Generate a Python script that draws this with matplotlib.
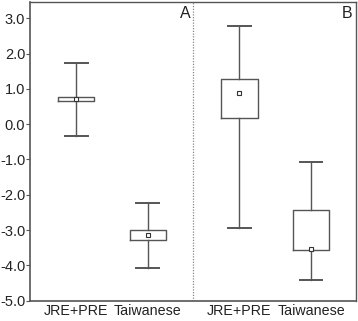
import matplotlib
matplotlib.use("Agg")
import matplotlib.pyplot as plt

plt.rcParams['font.family'] = ['Liberation Sans', 'DejaVu Sans']

categories = ["JRE+PRE", "Taiwanese", "JRE+PRE", "Taiwanese"]
panels = ["A", "B"]
whisker_high = [1.72, -2.22, 2.78, -1.07]
box_high = [0.78, -3.00, 1.28, -2.43]
means = [0.70, -3.15, 0.87, -3.54]
box_low = [0.65, -3.28, 0.17, -3.57]
whisker_low = [-0.33, -4.08, -2.95, -4.41]
yticks = [3.0, 2.0, 1.0, 0.0, -1.0, -2.0, -3.0, -4.0, -5.0]
ytick_labels = ["3.0", "2.0", "1.0", "0.0", "-1.0", "-2.0", "-3.0", "-4.0", "-5.0"]

positions = [0.142, 0.361, 0.643, 0.863]
col = "#555555"

fig = plt.figure(figsize=(3.58, 3.21), dpi=100)
ax = fig.add_axes([0.0838, 0.0632, 0.9098, 0.9306])

stats = []
for i in range(4):
    stats.append(dict(whislo=whisker_low[i], q1=box_low[i], med=box_low[i],
                      q3=box_high[i], whishi=whisker_high[i], mean=means[i],
                      fliers=[]))

ax.bxp(stats, positions=positions, widths=0.111, showmeans=True,
       showfliers=False, patch_artist=False,
       boxprops=dict(color=col, linewidth=1.0),
       whiskerprops=dict(color=col, linewidth=1.0),
       capprops=dict(color=col, linewidth=1.4),
       capwidths=0.07,
       medianprops=dict(linewidth=0),
       meanprops=dict(marker='s', markersize=2.6, markerfacecolor='white',
                      markeredgecolor='#333333', markeredgewidth=0.8))

ax.set_xlim(0, 1)
ax.set_ylim(-5.0, 3.46)
ax.axvline(0.5, color="#888888", linestyle=(0, (1, 1.2)), linewidth=0.9)

ax.set_yticks(yticks)
ax.set_yticklabels(ytick_labels, fontsize=10.5, color="#222222")
ax.set_xticks(positions)
ax.set_xticklabels(categories, fontsize=10.3, color="#222222")
ax.tick_params(axis='x', length=0, pad=2.5)
ax.tick_params(axis='y', length=3, width=0.8, color=col, pad=0.5)

for s in ax.spines.values():
    s.set_color(col)
    s.set_linewidth(1.0)
ax.spines['left'].set_linewidth(1.2)
ax.spines['bottom'].set_linewidth(1.2)

ax.text(0.493, 0.988, panels[0], transform=ax.transAxes, ha='right', va='top',
        fontsize=11.5, color="#222222")
ax.text(0.99, 0.988, panels[1], transform=ax.transAxes, ha='right', va='top',
        fontsize=11.5, color="#222222")

fig.savefig("out.png", dpi=100)
